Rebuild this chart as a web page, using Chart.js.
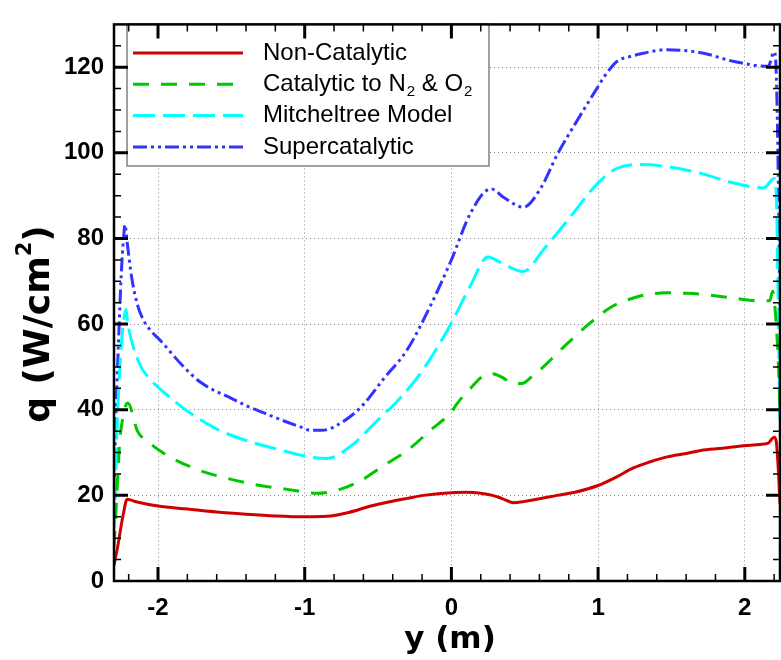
<!DOCTYPE html>
<html>
<head>
<meta charset="utf-8">
<script src="https://cdn.jsdelivr.net/npm/chart.js@4.4.0/dist/chart.umd.min.js"></script>
<style>
  html, body { margin: 0; padding: 0; background: #fff; }
  #wrap { width: 781px; height: 660px; }
</style>
</head>
<body>
<div id="wrap"><canvas id="heatChart" width="781" height="660"></canvas></div>
<script>
// surface heat flux q (W/cm^2) against spanwise position y (m)
const nonCatY = [-2.30, -2.27, -2.24, -2.21, -2.15, -2.0, -1.8, -1.6, -1.4, -1.2, -1.0, -0.85, -0.7, -0.55, -0.42, -0.3, -0.19, -0.05, 0.1, 0.2, 0.28, 0.35, 0.42, 0.5, 0.6, 0.72, 0.85, 1.0, 1.12, 1.24, 1.35, 1.47, 1.6, 1.7, 1.85, 1.99, 2.1, 2.16, 2.20, 2.215, 2.23, 2.24];
const nonCatQ = [3.6, 9, 15, 19.1, 18.5, 17.5, 16.8, 16.1, 15.6, 15.2, 15.0, 15.1, 16.0, 17.5, 18.5, 19.3, 20.0, 20.5, 20.7, 20.5, 20.0, 19.2, 18.3, 18.6, 19.2, 20.0, 20.8, 22.3, 24.2, 26.4, 27.8, 29.0, 29.8, 30.5, 31.0, 31.6, 31.9, 32.2, 33.6, 32.5, 25, 18];

const catY = [-2.30, -2.29, -2.275, -2.26, -2.24, -2.22, -2.205, -2.14, -2.075, -1.94, -1.73, -1.53, -1.35, -1.12, -0.915, -0.76, -0.62, -0.46, -0.30, -0.14, 0.0, 0.04, 0.13, 0.22, 0.28, 0.35, 0.42, 0.48, 0.55, 0.61, 0.77, 0.93, 1.09, 1.24, 1.35, 1.47, 1.6, 1.70, 1.92, 2.11, 2.17, 2.19, 2.21, 2.23, 2.24];
const catQ = [8, 14, 24, 33, 38, 41, 41.6, 35, 32.7, 29.4, 26, 24, 22.6, 21.4, 20.5, 21.4, 23.4, 27, 30.5, 35.3, 39.5, 41.5, 45, 48, 48.4, 47.5, 46.1, 46.1, 47.8, 49.5, 54.8, 59.8, 64, 66.1, 67, 67.3, 67.2, 67, 66.1, 65.4, 65.5, 67.7, 62, 50, 40];

const mitchY = [-2.30, -2.29, -2.28, -2.26, -2.24, -2.218, -2.205, -2.123, -2.055, -1.94, -1.80, -1.60, -1.39, -1.12, -1.03, -0.85, -0.69, -0.51, -0.35, -0.19, -0.007, 0.13, 0.25, 0.33, 0.49, 0.63, 0.81, 1.0, 1.13, 1.29, 1.47, 1.70, 1.92, 2.13, 2.20, 2.215, 2.23, 2.24];
const mitchQ = [12, 22, 35, 50, 59, 63.4, 60, 50.5, 47.2, 43.5, 39.7, 35.5, 32.7, 30.2, 29.4, 28.6, 31.4, 37.3, 42.7, 49.5, 59.8, 69, 75.7, 74.5, 72.3, 77.5, 85, 93, 96.4, 97.3, 96.8, 95.2, 93, 91.8, 94, 90, 60, 36];

const superY = [-2.30, -2.29, -2.27, -2.25, -2.235, -2.225, -2.21, -2.18, -2.14, -2.10, -2.05, -1.99, -1.83, -1.71, -1.49, -1.37, -1.26, -1.15, -1.03, -0.96, -0.88, -0.80, -0.62, -0.46, -0.30, -0.14, 0.0, 0.13, 0.27, 0.36, 0.49, 0.61, 0.72, 0.86, 1.0, 1.04, 1.13, 1.22, 1.30, 1.47, 1.70, 1.92, 2.16, 2.20, 2.215, 2.23, 2.24];
const superQ = [20, 35, 55, 72, 80, 83.2, 79, 71, 64.5, 61, 58.5, 56.4, 50.2, 46.4, 42.5, 40.5, 39, 37.5, 36, 35.2, 35.2, 36, 40.5, 47.3, 54.1, 64.5, 75, 85.9, 91.6, 89.5, 87.3, 91.8, 99.5, 107.7, 115.5, 117.7, 121.4, 122.5, 123.2, 124.1, 123.4, 121.4, 120.2, 123.6, 118, 90, 60];

const seriesNames = ['Non-Catalytic', 'Catalytic to N|2| & O|2|', 'Mitcheltree Model', 'Supercatalytic'];
const xTickStep = 1;
const yTickStep = 20;

function points(xs, qs) {
  return xs.map((v, i) => ({ x: v, y: qs[i] }));
}

function line(label, xs, qs, color, dash) {
  return {
    label: label,
    data: points(xs, qs),
    borderColor: color,
    borderWidth: 3,
    borderDash: dash,
    pointRadius: 0,
    fill: false,
    cubicInterpolationMode: 'monotone'
  };
}

// draws the boxed frame with inward ticks, the legend and the axis titles
const framePlugin = {
  id: 'frame',
  afterDraw(chart) {
    const { ctx, chartArea: a, scales: { x, y } } = chart;
    ctx.save();

    // legend box
    const lx = 127, ly = 24, lw = 362, lh = 142;
    ctx.fillStyle = '#fff';
    ctx.fillRect(lx, ly, lw, lh);
    ctx.strokeStyle = '#808080';
    ctx.lineWidth = 1.5;
    ctx.strokeRect(lx, ly, lw, lh);
    chart.data.datasets.forEach((ds, i) => {
      const rowY = 53 + i * 31.3;
      ctx.strokeStyle = ds.borderColor;
      ctx.lineWidth = ds.borderWidth;
      ctx.setLineDash(ds.borderDash || []);
      ctx.beginPath();
      ctx.moveTo(133, rowY);
      ctx.lineTo(243, rowY);
      ctx.stroke();
      ctx.setLineDash([]);
      // text with |..| marking subscripts
      ctx.fillStyle = '#000';
      ctx.textBaseline = 'middle';
      ctx.textAlign = 'left';
      let tx = 263;
      seriesNames[i].split('|').forEach((part, k) => {
        if (k % 2 === 1) {
          ctx.font = '15px "Liberation Sans", Arial, sans-serif';
          ctx.fillText(part, tx + 1, rowY + 8);
          tx += ctx.measureText(part).width + 1;
        } else {
          ctx.font = '24px "Liberation Sans", Arial, sans-serif';
          ctx.fillText(part, tx, rowY);
          tx += ctx.measureText(part).width;
        }
      });
    });

    // ticks on all four sides, pointing in
    ctx.strokeStyle = '#000';
    for (let k = -11; k <= 11; k++) {
      const v = k / 5;
      const px = x.getPixelForValue(v);
      const major = k % 5 === 0;
      const len = major ? 14 : 7;
      ctx.lineWidth = major ? 3 : 1.5;
      ctx.beginPath();
      ctx.moveTo(px, a.bottom); ctx.lineTo(px, a.bottom - len);
      ctx.moveTo(px, a.top); ctx.lineTo(px, a.top + len);
      ctx.stroke();
    }
    for (let v = 5; v < 130; v += 5) {
      const py = y.getPixelForValue(v);
      const major = v % 20 === 0;
      const len = major ? 14 : 7;
      ctx.lineWidth = major ? 3 : 1.5;
      ctx.beginPath();
      ctx.moveTo(a.left, py); ctx.lineTo(a.left + len, py);
      ctx.moveTo(a.right, py); ctx.lineTo(a.right - len, py);
      ctx.stroke();
    }
    ctx.lineWidth = 2.5;
    ctx.strokeRect(a.left, a.top, a.right - a.left, a.bottom - a.top);

    // axis titles
    ctx.fillStyle = '#000';
    ctx.textAlign = 'center';
    ctx.textBaseline = 'middle';
    ctx.font = 'bold 31px "DejaVu Sans", sans-serif';
    ctx.fillText('y (m)', (a.left + a.right) / 2 + 3, 640);

    ctx.translate(40, 324);
    ctx.rotate(-Math.PI / 2);
    const main = 'q (W/cm', sup = '2', close = ')';
    ctx.font = 'bold 36px "DejaVu Sans", sans-serif';
    const w1 = ctx.measureText(main).width, w3 = ctx.measureText(close).width;
    ctx.font = 'bold 21px "DejaVu Sans", sans-serif';
    const w2 = ctx.measureText(sup).width;
    let sx = -(w1 + w2 + w3) / 2;
    ctx.textAlign = 'left';
    ctx.font = 'bold 36px "DejaVu Sans", sans-serif';
    ctx.fillText(main, sx, 0);
    ctx.font = 'bold 21px "DejaVu Sans", sans-serif';
    ctx.fillText(sup, sx + w1, -14);
    ctx.font = 'bold 36px "DejaVu Sans", sans-serif';
    ctx.fillText(close, sx + w1 + w2, 0);

    ctx.restore();
  }
};

const ctx = document.getElementById('heatChart');

const heatChart = new Chart(ctx, {
  type: 'line',
  data: {
    datasets: [
      line('Non-Catalytic', nonCatY, nonCatQ, '#d00000', []),
      line('Catalytic to N2 & O2', catY, catQ, '#00c800', [16, 12]),
      line('Mitcheltree Model', mitchY, mitchQ, '#00ffff', [22, 8]),
      line('Supercatalytic', superY, superQ, '#3333ff', [14, 4, 3, 4, 3, 4])
    ]
  },
  options: {
    responsive: false,
    animation: false,
    devicePixelRatio: 1,
    layout: { padding: { top: 9, right: 1, left: 0, bottom: 0 } },
    plugins: { legend: { display: false }, tooltip: { enabled: false } },
    scales: {
      x: {
        type: 'linear',
        min: -2.3,
        max: 2.24,
        afterFit: s => { s.height = 79; },
        ticks: {
          stepSize: xTickStep,
          includeBounds: false,
          padding: 13,
          color: '#000',
          font: { family: '"Liberation Sans", Arial, sans-serif', size: 24, weight: 'bold' }
        },
        grid: { color: '#8a8a8a', lineWidth: 1, drawTicks: false },
        border: { display: false, dash: [1, 3] }
      },
      y: {
        type: 'linear',
        min: 0,
        max: 130,
        afterFit: s => { s.width = 114; },
        ticks: {
          stepSize: yTickStep,
          includeBounds: false,
          padding: 10,
          color: '#000',
          font: { family: '"Liberation Sans", Arial, sans-serif', size: 24, weight: 'bold' }
        },
        grid: { color: '#8a8a8a', lineWidth: 1, drawTicks: false },
        border: { display: false, dash: [1, 3] }
      }
    }
  },
  plugins: [framePlugin]
});
</script>
</body>
</html>
